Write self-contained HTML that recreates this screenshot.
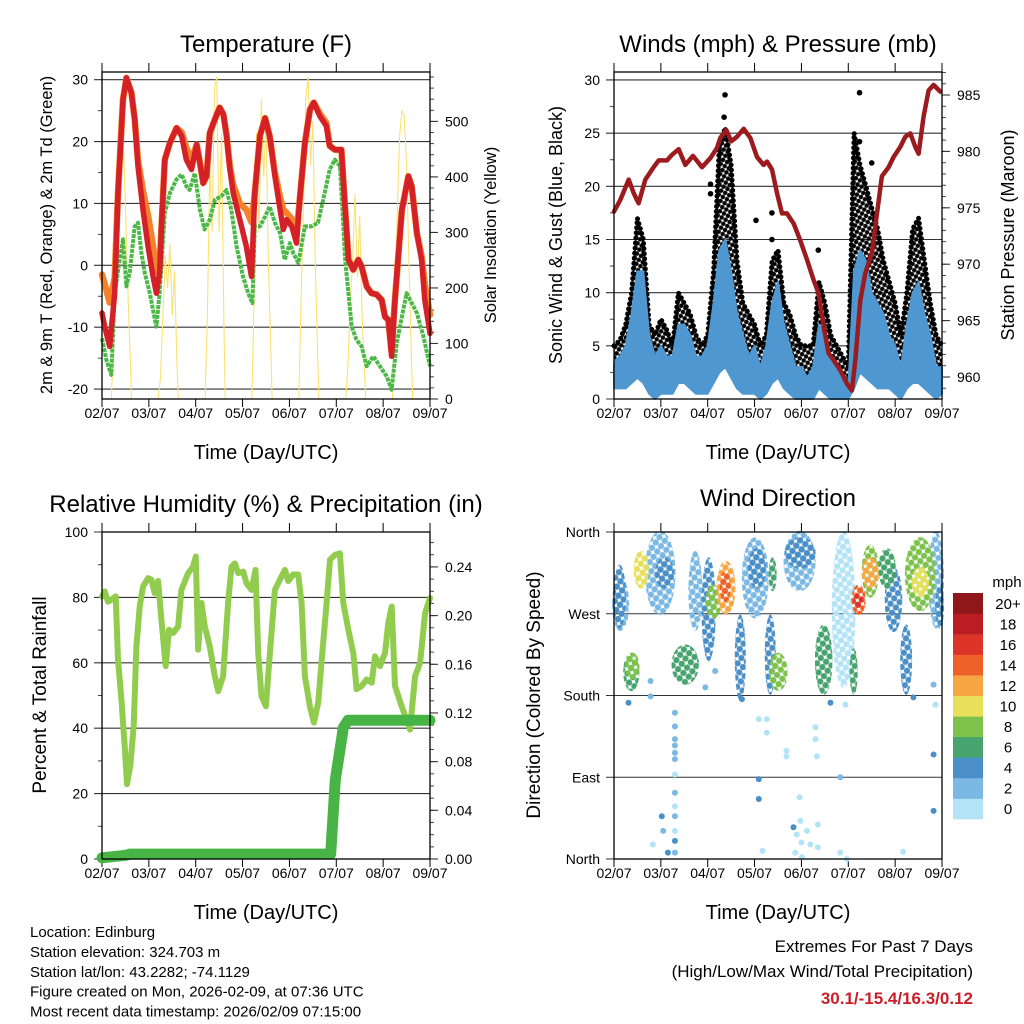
<!DOCTYPE html>
<html><head><meta charset="utf-8"><style>
html,body{margin:0;padding:0;background:#fff;}
svg{display:block;font-family:"Liberation Sans",Arial,sans-serif;}
</style></head><body>
<svg id="fig" width="1024" height="1024" viewBox="0 0 1024 1024" xmlns="http://www.w3.org/2000/svg">
<defs id="defs"></defs>
<g id="root"></g>
</svg>
<script>
// ---------- DATA ----------
const tempTime9m=[0,.057,.164,.27,.342,.449,.52,.627,.698,.769,.876,.983,1.09,1.16,1.23,1.27,1.34,1.45,1.59,1.70,1.80,1.91,2.02,2.09,2.16,2.23,2.30,2.41,2.51,2.59,2.66,2.73,2.80,2.94,3.08,3.19,3.26,3.37,3.48,3.58,3.69,3.80,3.87,3.94,4.05,4.15,4.22,4.33,4.44,4.52,4.65,4.79,4.86,4.97,5.11,5.19,5.26,5.36,5.47,5.54,5.65,5.75,5.86,5.97,6.04,6.11,6.18,6.25,6.40,6.54,6.61,6.72,6.82,6.89,7];
const tempRed=[-7.7,-9.9,-13.1,-4.5,11.7,26.8,30.3,27.9,23.6,16,9,3,-1.8,-4.5,-1.2,6.3,17.1,19.8,22.2,20.9,17.1,15.5,19.5,16.6,13.3,14.4,21.4,23.6,25.5,24.4,20.9,15.5,11.7,7.4,3.1,-1.8,11.7,20.9,23.8,20.9,14.4,9,5.8,7.4,6.3,3.6,10.6,19.8,25.2,26.3,24.1,22.5,19.3,18.7,18.7,9,0.9,-0.7,0.9,-0.2,-3.4,-4.5,-4.7,-5.6,-8.3,-8.8,-14.7,-5.6,9,14.4,12.8,5.2,0.9,-5.6,-11];
const tempOrange=[-1.5,-3,-6,-2,11.7,26.8,30.3,27.9,23.6,17,12,8,3,-1,0,6.3,17.1,19.8,22.2,21.5,19,17,19.5,16.6,13.3,14.4,21.4,23.6,25.5,24.4,21,16,13,10,9,7,11.7,20.9,23.8,20.9,15,11,9,8.5,7.5,5,10.6,19.8,25.2,26.3,24.5,23,19.3,18.7,18.7,9,0.9,-0.7,0.9,-0.2,-3.4,-4.5,-4.7,-5.6,-8.3,-8.8,-14,-5.6,9,14.4,12.8,5.2,1.5,-3,-8];
const tdTime=[0,.093,.199,.27,.377,.449,.52,.591,.698,.769,.84,.912,1.02,1.13,1.16,1.23,1.34,1.45,1.59,1.70,1.80,1.87,1.98,2.09,2.19,2.30,2.41,2.55,2.66,2.76,2.87,3.01,3.12,3.21,3.26,3.37,3.48,3.58,3.69,3.80,3.90,4.01,4.08,4.19,4.33,4.47,4.61,4.72,4.86,4.97,5.08,5.19,5.33,5.43,5.54,5.65,5.79,5.93,6.08,6.18,6.29,6.40,6.50,6.61,6.72,6.86,7];
const tdGreen=[-11.8,-15.3,-17.7,-4.5,0.9,4.2,-3.4,-1.2,6.3,6.9,2,-1.2,-4.5,-8.8,-9.9,-4.5,8.5,11.7,13.9,14.7,12.8,12.2,14.9,9,5.8,7.4,10.6,11.2,12.2,9,3.1,-1.8,-4.5,-6.1,6.3,6.3,7.9,9.5,6.9,5.2,0.9,3.6,2,0.4,6.3,6.3,6.9,10.6,15.5,17.1,16,0.9,-9.9,-12,-13.1,-16.3,-14.7,-16.3,-18,-20.1,-12.6,-8.3,-4.5,-6.1,-7.7,-11.5,-16.3];
// solar insolation samples (W/m2) per day at day+offset
const solarOffsets=[0.2,0.25,0.3,0.35,0.4,0.45,0.5,0.55,0.6,0.63];
const solarDay0=[0,120,300,430,500,470,350,200,80,0];
const solarDay1=[0,40,150,260,200,280,150,230,60,0];
const solarDay2=[0,150,420,300,560,580,300,480,150,0];
const solarDay3=[0,200,480,300,540,400,500,250,100,0];
const solarDay4=[0,180,350,540,580,420,500,250,90,0];
const solarDay5=[0,60,180,250,370,220,330,150,50,0];
const solarDay6=[0,150,330,470,520,510,420,250,80,0];

// wind (3-hourly bins, mph)
const windBinDays=0.125;
const windLo=[1,1,1,1.5,2,1.5,0.5,0,0.5,0.5,0.5,1.5,1.5,1,0.5,0.5,0.5,1.5,2.5,3,2,1,0.5,0.5,0.5,0,0.5,1.5,2,1,0.5,0,0,0,0,1,0.5,0,0,0,0,1,2.5,2,1.5,1,1,1,0.5,0,1,1.5,1.5,1,0.5,0,0.5];
const windHi=[3.5,4,5,8,12,12,6,4,5,4,4,7,7,6,4,4,5,9,14,15,12,8,6,4,5,3,5,9,11,7,5,3,3,2,3,7,6,4,3,2,1,12,14,13,10,9,8,6,5,3,7,10,11,8,6,3,3];
const gustHi=[5,5.5,7,10,17,15,7,6,7.5,6.5,5,10,9,8,6,5,6,12,24,25.5,22,13,9,8,7,5,6,13,14,9,8,6,5,5,5,11,9,6,5,4,3,25,22,20,18,16,13,11,9,6,10,16,17,13,9,6,5];
const gustOutlierDays=[2.06,2.06,2.37,2.35,3.37,3.37,5.24,5.24,5.5,4.36,3.03];
const gustOutlierMph=[20.2,19.3,28.6,26.5,17.5,15,28.8,24.2,22.2,14,16.8];
const presTime=[0,.135,.313,.42,.526,.669,.846,.953,1.131,1.238,1.38,1.522,1.686,1.878,2.055,2.198,2.269,2.397,2.504,2.624,2.767,2.909,3.051,3.193,3.265,3.371,3.478,3.585,3.691,3.834,3.976,4.118,4.26,4.367,4.474,4.58,4.687,4.829,4.972,5.078,5.149,5.256,5.363,5.505,5.612,5.718,5.861,5.967,6.11,6.216,6.323,6.43,6.501,6.607,6.714,6.821,6.963];
const presMb=[974.66,975.7,977.5,976.3,975.4,977.5,978.6,979.2,979.2,979.7,980.2,978.8,979.6,978.6,979.4,980.3,981.2,981.9,980.9,981.3,982.0,981.2,979.5,978.8,979.1,978.4,976.3,974.5,974.5,973.6,972.1,970.4,968.6,967.4,964.5,962.1,961.5,960.6,959.4,958.8,961.5,966.8,969.2,971,974.5,977.8,978.6,979.5,980.4,981.3,981.6,980.4,979.8,983.1,985.4,985.9,985.3];

// RH & precipitation
const rhTime=[0,.057,.128,.2,.292,.342,.413,.484,.534,.605,.677,.734,.805,.876,.983,1.054,1.125,1.197,1.268,1.36,1.43,1.517,1.624,1.695,1.838,1.944,2.001,2.051,2.123,2.194,2.3,2.407,2.479,2.585,2.692,2.764,2.835,2.906,3.013,3.084,3.191,3.276,3.333,3.405,3.497,3.583,3.689,3.796,3.903,3.974,4.081,4.188,4.259,4.33,4.437,4.523,4.615,4.701,4.793,4.865,4.972,5.078,5.15,5.256,5.363,5.434,5.541,5.648,5.755,5.826,5.933,6.04,6.111,6.182,6.254,6.396,6.574,6.681,6.788,6.895,7];
const rhPct=[80.3,81.8,78.7,79.3,80.3,61,48.8,34.6,22.9,28.5,40.7,65,77.2,83.3,85.9,85.4,81.3,85,73.2,59,70.1,69.1,71.1,82.3,87.4,89.4,92.5,64,78.3,71.1,65,55.9,51.3,55.9,78.3,89.4,90.4,87.4,87.9,84.3,82.3,88.4,63,49.8,46.7,63,82.3,85.4,88.4,85,87,87,78.3,55.9,46.7,41.7,47.8,63,78.3,91.5,93,93.5,78.3,70.1,63,51.9,52.9,54.9,53.9,62,59,63,72.2,77.2,52.9,46.7,39.6,55.9,60,75.2,79.8];
const precipTime=[0,0.5,0.6,4.88,4.93,4.98,5.08,5.12,5.15,5.25,7];
const precipIn=[0.001,0.003,0.004,0.004,0.035,0.065,0.09,0.1,0.108,0.114,0.114];

// wind direction clusters: [dayStart, dayEnd, dirTop, dirBottom, speed]
const dirClusterDay0=[0,0.7,1.63,2.77,3.66,4.69,6.75, 0.03,0.92,1.91,2.62,2.9,3.26,3.69,5.82,6.15,6.9, 0.24,1.27,4.33,5.68,3.35,5.08, 0.28,2.0,3.35,6.25,5.33,0.46,6.39, 2.23,5.33,2.3,5.11,5.15];
const dirClusterDay1=[0.28,1.27,1.84,3.26,4.26,5.11,7, 0.21,1.24,2.13,2.77,3.2,3.41,4.26,6.11,6.32,7, 0.5,1.77,4.62,5.97,3.42,5.15, 0.5,2.25,3.66,6.82,5.61,0.7,6.68, 2.55,5.61,2.45,5.33,5.28];
const dirClusterTop=[308,359,337,352,359,359,359, 322,330,330,267,340,267,352,319,256,300, 225,234,256,340,330,230, 225,300,225,352,344,337,319, 326,330,315,300,290];
const dirClusterBot=[253,271,253,267,297,190,256, 256,300,220,176,300,183,322,252,183,256, 187,194,183,300,297,183, 200,267,187,275,290,300,290, 271,300,285,271,278];
const dirClusterSpd=[2.5,2.5,2.5,2.5,2.5,0.5,2.5, 4.5,4.5,4.5,4.5,4.5,4.5,4.5,4.5,4.5,4.5, 6.5,6.5,6.5,6.5,6.5,6.5, 8.5,8.5,8.5,8.5,9,10.5,10.5, 12.5,12.5,14.5,14.5,16.5];
// scattered individual direction observations
const dirPtDay=[1.3,1.3,1.3,1.3,1.3,1.3,1.3,1.3,1.3,1.3,1.3,1.3,1.3,.83,1.02,1.05,1.15,3.09,3.26,3.26,3.09,3.09,3.17,3.68,3.68,3.96,3.83,3.98,4.12,3.9,4.0,4.19,4.35,4.35,4.3,4.3,4.33,3.87,4.01,4.83,4.83,4.97,4.62,4.94,6.17,6.82,6.82,6.86,6.82,6.39,0.31,0.78,0.78,2.16,1.95,2.73];
const dirPtDir=[161,146,132,125,117,110,93,73,58,47,31,20,7,16,47,31,7,154,154,139,88,66,9,119,113,68,35,42,31,27,18,16,13,38,132,145,113,7,2,90,7,0,172,170,8,115,53,170,192,178,172,179,196,207,189,176];
const dirPtSpd=[2.5,2.5,2.5,3,2.5,2.5,1,2.5,1,2.5,1,4.5,2.5,1,4.5,2.5,4.5,1,1,1,4.5,4.5,1,1,1,1,4.5,1,1,1,1,1,1,1,1,1,1,1,1,2.5,1,1,4.5,1,1,4.5,4.5,1,2.5,4.5,4.5,2.5,2.5,2.5,2.5,4.5];

const cbColors=['#b3e3f7','#7bb8e3','#4a8fc7','#47a46e','#7dc24a','#e8e05a','#f6a744','#f0612a','#dd3429','#bb1d24','#8f1619'];
const cbLabels=['0','2','4','6','8','10','12','14','16','18','20+'];
const dayLabels=['02/07','03/07','04/07','05/07','06/07','07/07','08/07','09/07'];

// ---------- HELPERS ----------
const NS='http://www.w3.org/2000/svg';
const root=document.getElementById('root');
const defs=document.getElementById('defs');
function el(tag,attrs,parent){const e=document.createElementNS(NS,tag);for(const k in attrs)e.setAttribute(k,attrs[k]);(parent||root).appendChild(e);return e;}
function txt(s,x,y,size,anchor,parent,extra){const t=el('text',Object.assign({x:x,y:y,'font-size':size,'text-anchor':anchor||'middle',fill:'#000'},extra||{}),parent);t.textContent=s;return t;}
function lin(d0,d1,r0,r1){return v=>r0+(v-d0)*(r1-r0)/(d1-d0);}
function pts(xs,ys,fx,fy){return xs.map((x,i)=>fx(x).toFixed(1)+','+fy(ys[i]).toFixed(1)).join(' ');}

const PX0=[102,614],PX1=[430,942];
function timeAxis(g,x0,x1,y0,y1){
  const fx=lin(0,7,x0,x1);
  for(let d=0;d<=7;d++){
    el('line',{x1:fx(d),x2:fx(d),y1:y0,y2:y0-9,stroke:'#000','stroke-width':1},g);
    el('line',{x1:fx(d),x2:fx(d),y1:y1,y2:y1+8,stroke:'#000','stroke-width':1},g);
    const t=txt(dayLabels[d],fx(d),y1+19,14,'middle',g);
    
    
  }
  const at=txt('Time (Day/UTC)',(x0+x1)/2,y1+60,20,'middle',g);
  
  
  return fx;
}
function frame(g,x0,x1,y0,y1){el('rect',{x:x0,y:y0,width:x1-x0,height:y1-y0,fill:'none',stroke:'#000','stroke-width':1.3},g);}
function leftAxis(g,x0,x1,fy,majors,minors,labels,grid){
  minors.forEach(v=>el('line',{x1:x0-4,x2:x0,y1:fy(v),y2:fy(v),stroke:'#444','stroke-width':1},g));
  majors.forEach((v,i)=>{
    el('line',{x1:x0-8,x2:grid?x1:x0,y1:fy(v),y2:fy(v),stroke:'#333','stroke-width':1.1},g);
    const t=txt(labels[i],x0-14,fy(v)+5,14,'end',g);
    
    
  });
}
function rightAxis(g,x1,fy,majors,minors,labels){
  minors.forEach(v=>el('line',{x1:x1,x2:x1+4,y1:fy(v),y2:fy(v),stroke:'#444','stroke-width':1},g));
  majors.forEach((v,i)=>{
    el('line',{x1:x1,x2:x1+8,y1:fy(v),y2:fy(v),stroke:'#333','stroke-width':1.1},g);
    const t=txt(labels[i],x1+15,fy(v)+5,14,'start',g);
    
    
  });
}
function range(a,b,s){const r=[];for(let v=a;v<=b+1e-9;v+=s)r.push(+v.toFixed(4));return r;}
function vtitle(s,x,y,size,g,name){const t=txt(s,x,y,size,'middle',g,{transform:'rotate(-90 '+x+' '+y+')'});}
function title(s,x,y,g,name){const t=txt(s,x,y,24,'middle',g);}

// ---------- PANEL 1: TEMPERATURE ----------
(function(){
  const g=el('g',{});
  
  
  const x0=PX0[0],x1=PX1[0],y0=72,y1=399;
  const fx=timeAxis(g,x0,x1,y0,y1);
  const fy=lin(-21.6,31.25,y1,y0);
  const fyR=lin(0,589,y1,y0);
  leftAxis(g,x0,x1,fy,[-20,-10,0,10,20,30],[-15,-5,5,15,25],['-20','-10','0','10','20','30'],true);
  rightAxis(g,x1,fyR,[0,100,200,300,400,500],range(20,580,20),['0','100','200','300','400','500']);
  const solarDays=[solarDay0,solarDay1,solarDay2,solarDay3,solarDay4,solarDay5,solarDay6];
  solarDays.forEach((arr,d)=>{
    const ts=solarOffsets.map(o=>d+o);
    const p=el('polyline',{points:pts(ts,arr,fx,fyR),fill:'none',stroke:'#fbe270','stroke-width':1.1},g);
    
    
  });
  const o=el('polyline',{points:pts(tempTime9m,tempOrange,fx,fy),fill:'none',stroke:'#f5822a','stroke-width':6.5,'stroke-linejoin':'round','stroke-linecap':'round'},g);
  
  
  const gr=el('polyline',{points:pts(tdTime,tdGreen,fx,fy),fill:'none',stroke:'#4cb848','stroke-width':4,'stroke-dasharray':'4 1','stroke-linejoin':'round'},g);
  
  
  const r=el('polyline',{points:pts(tempTime9m,tempRed,fx,fy),fill:'none',stroke:'#d42027','stroke-width':5.5,'stroke-linejoin':'round','stroke-linecap':'round'},g);
  
  
  frame(g,x0,x1,y0,y1);
  title('Temperature (F)',266,52,g,'temperature-title');
  vtitle('2m & 9m T (Red, Orange) & 2m Td (Green)',52,235,16.5,g,'temperature-y-axis-title');
  vtitle('Solar Insolation (Yellow)',496,235,16.5,g,'solar-y-axis-title');
})();

// ---------- PANEL 2: WINDS & PRESSURE ----------
(function(){
  const g=el('g',{});
  
  
  const x0=PX0[1],x1=PX1[1],y0=72,y1=399;
  const fx=timeAxis(g,x0,x1,y0,y1);
  const fy=lin(0,30.75,y1,y0);
  const fyR=lin(958.05,987.04,y1,y0);
  leftAxis(g,x0,x1,fy,[0,5,10,15,20,25,30],range(2.5,27.5,5),['0','5','10','15','20','25','30'],true);
  rightAxis(g,x1,fyR,[960,965,970,975,980,985],range(959,987,1),['960','965','970','975','980','985']);
  const pat=el('pattern',{id:'gustpat',width:4.6,height:4.6,patternUnits:'userSpaceOnUse',patternTransform:'rotate(30)'},defs);
  el('circle',{cx:2.3,cy:2.3,r:2.2,fill:'#000'},pat);
  const ts=windHi.map((v,i)=>Math.min(7,i*windBinDays));
  const up=ts.map((t,i)=>fx(t).toFixed(1)+','+fy(gustHi[i]).toFixed(1));
  const lo=ts.map((t,i)=>fx(t).toFixed(1)+','+fy(windLo[i]).toFixed(1)).reverse();
  const ga=el('polygon',{points:up.concat(lo).join(' '),fill:'url(#gustpat)'},g);
  
  
  const ge=el('polyline',{points:up.join(' '),fill:'none',stroke:'#000','stroke-width':5,'stroke-linecap':'round','stroke-dasharray':'0.1 5'},g);
  
  
  gustOutlierDays.forEach((d,i)=>{
    const c=el('circle',{cx:fx(d),cy:fy(gustOutlierMph[i]),r:2.8,fill:'#000'},g);
    
    
  });
  const wu=ts.map((t,i)=>fx(t).toFixed(1)+','+fy(windHi[i]).toFixed(1));
  const wa=el('polygon',{points:wu.concat(lo).join(' '),fill:'#4f97d0',stroke:'#4f97d0','stroke-width':2,'stroke-linejoin':'round'},g);
  
  
  const p=el('polyline',{points:pts(presTime,presMb,fx,fyR),fill:'none',stroke:'#9b1b1e','stroke-width':4.5,'stroke-linejoin':'round','stroke-linecap':'round'},g);
  
  
  frame(g,x0,x1,y0,y1);
  title('Winds (mph) & Pressure (mb)',778,52,g,'winds-title');
  vtitle('Sonic Wind & Gust (Blue, Black)',562,235,18,g,'wind-y-axis-title');
  vtitle('Station Pressure (Maroon)',1014,235,18,g,'pressure-y-axis-title');
})();

// ---------- PANEL 3: RH & PRECIP ----------
(function(){
  const g=el('g',{});
  
  
  const x0=PX0[0],x1=PX1[0],y0=532,y1=859;
  const fx=timeAxis(g,x0,x1,y0,y1);
  const fy=lin(0,100,y1,y0);
  const fyR=lin(0,0.2687,y1,y0);
  leftAxis(g,x0,x1,fy,[0,20,40,60,80,100],[10,30,50,70,90],['0','20','40','60','80','100'],true);
  rightAxis(g,x1,fyR,[0,0.04,0.08,0.12,0.16,0.20,0.24],range(0.01,0.26,0.01),['0.00','0.04','0.08','0.12','0.16','0.20','0.24']);
  const r=el('polyline',{points:pts(rhTime,rhPct,fx,fy),fill:'none',stroke:'#92cc4f','stroke-width':6,'stroke-linejoin':'round','stroke-linecap':'round'},g);
  
  
  const p=el('polyline',{points:pts(precipTime,precipIn,fx,fyR),fill:'none',stroke:'#48b445','stroke-width':11,'stroke-linejoin':'round','stroke-linecap':'round'},g);
  
  
  frame(g,x0,x1,y0,y1);
  title('Relative Humidity (%) & Precipitation (in)',266,512,g,'humidity-title');
  vtitle('Percent & Total Rainfall',46,695,19,g,'humidity-y-axis-title');
})();

// ---------- PANEL 4: WIND DIRECTION ----------
function spdColor(v){return cbColors[Math.max(0,Math.min(10,Math.floor(v/2)))];}
(function(){
  const g=el('g',{});
  
  
  const x0=PX0[1],x1=PX1[1],y0=532,y1=859;
  const fx=timeAxis(g,x0,x1,y0,y1);
  const fy=lin(0,360,y1,y0);
  leftAxis(g,x0,x1,fy,[0,90,180,270,360],[],['North','East','South','West','North'],true);
  cbColors.forEach((c,i)=>{
    const pat=el('pattern',{id:'dp'+i,width:6.5,height:6.5,patternUnits:'userSpaceOnUse',patternTransform:'rotate(35)'},defs);
    el('circle',{cx:3.25,cy:3.25,r:3.1,fill:c},pat);
  });
  dirClusterDay0.forEach((d0,i)=>{
    const bi=Math.max(0,Math.min(10,Math.floor(dirClusterSpd[i]/2)));
    const xa=fx(d0),xb=fx(dirClusterDay1[i]),ya=fy(dirClusterTop[i]),yb=fy(dirClusterBot[i]);
    const rc=el('ellipse',{cx:(xa+xb)/2,cy:(ya+yb)/2,rx:Math.max(4,(xb-xa)/2+2),ry:Math.max(4,(yb-ya)/2+2),fill:'url(#dp'+bi+')'},g);
    
    
  });
  dirPtDay.forEach((d,i)=>{
    const c=el('circle',{cx:fx(d),cy:fy(dirPtDir[i]),r:3,fill:spdColor(dirPtSpd[i])},g);
    
    
  });
  el('rect',{x:x0,y:y0,width:x1-x0,height:y1-y0,fill:'none',stroke:'#000','stroke-width':1.3},g);
  title('Wind Direction',778,506,g,'wind-direction-title');
  vtitle('Direction (Colored By Speed)',540,695,19,g,'direction-y-axis-title');
  const cb=el('g',{});
  
  
  const bh=(819-593)/cbColors.length;
  cbColors.forEach((c,i)=>{
    const y=819-(i+1)*bh;
    const r=el('rect',{x:953,y:y,width:30,height:bh+0.3,fill:c},cb);
    
    
    const t=txt(cbLabels[i],1008,y+bh/2+5.5,15,'middle',cb);
    
    
  });
  const m=txt('mph',1007,587,15,'middle',cb);
  
  
})();

// ---------- FOOTER TEXT ----------
(function(){
  const lines=['Location: Edinburg','Station elevation: 324.703 m','Station lat/lon: 43.2282; -74.1129','Figure created on Mon, 2026-02-09, at 07:36 UTC','Most recent data timestamp: 2026/02/09 07:15:00'];
  lines.forEach((s,i)=>{const t=txt(s,30,937+i*19.9,15,'start');});
  const a=txt('Extremes For Past 7 Days',973,952,17,'end');
  const b=txt('(High/Low/Max Wind/Total Precipitation)',973,977,17,'end');
  const c=txt('30.1/-15.4/16.3/0.12',973,1004,17,'end',null,{fill:'#c8202a','font-weight':'bold'});
})();
</script>
</body></html>
